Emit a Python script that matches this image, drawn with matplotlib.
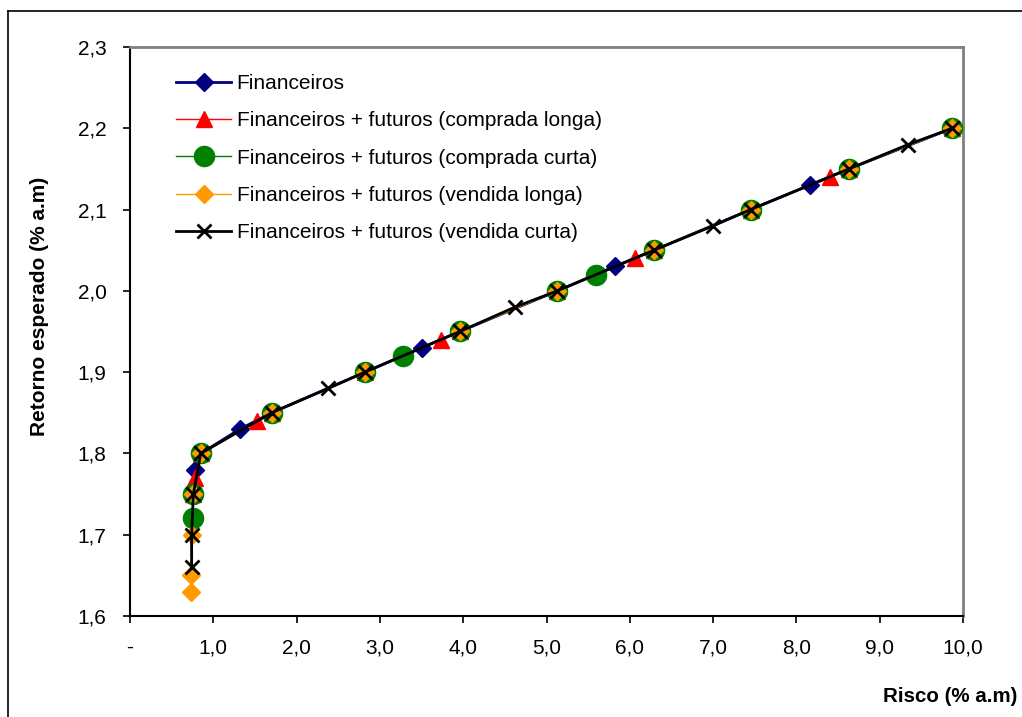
import matplotlib
matplotlib.use("Agg")
import matplotlib.pyplot as plt
from matplotlib.lines import Line2D
from matplotlib.ticker import FixedLocator, FixedFormatter

plt.rcParams['font.family'] = ['Liberation Sans', 'DejaVu Sans']

# --- data (risk % a.m, expected return % a.m) ---
fin_x = [0.76, 0.78, 0.85, 1.32, 1.70, 2.82, 3.50, 3.96, 5.13, 5.82, 6.29, 7.45, 8.16, 8.63, 9.87]
fin_y = [1.75, 1.78, 1.80, 1.83, 1.85, 1.90, 1.93, 1.95, 2.00, 2.03, 2.05, 2.10, 2.13, 2.15, 2.20]

cl_x = [0.76, 0.78, 0.85, 1.52, 1.70, 2.82, 3.73, 3.96, 5.13, 6.06, 6.29, 7.45, 8.40, 8.63, 9.87]
cl_y = [1.75, 1.77, 1.80, 1.84, 1.85, 1.90, 1.94, 1.95, 2.00, 2.04, 2.05, 2.10, 2.14, 2.15, 2.20]

cc_x = [0.76, 0.76, 0.85, 1.70, 2.82, 3.28, 3.96, 5.13, 5.59, 6.29, 7.45, 8.63, 9.87]
cc_y = [1.72, 1.75, 1.80, 1.85, 1.90, 1.92, 1.95, 2.00, 2.02, 2.05, 2.10, 2.15, 2.20]

vl_x = [0.73, 0.73, 0.74, 0.76, 0.85, 1.70, 2.82, 3.96, 5.13, 6.29, 7.45, 8.63, 9.87]
vl_y = [1.63, 1.65, 1.70, 1.75, 1.80, 1.85, 1.90, 1.95, 2.00, 2.05, 2.10, 2.15, 2.20]

vc_x = [0.74, 0.74, 0.76, 0.85, 1.70, 2.38, 2.82, 3.96, 4.62, 5.13, 6.29, 7.00, 7.45, 8.63, 9.34, 9.87]
vc_y = [1.66, 1.70, 1.75, 1.80, 1.85, 1.88, 1.90, 1.95, 1.98, 2.00, 2.05, 2.08, 2.10, 2.15, 2.18, 2.20]

labels = ["Financeiros",
          "Financeiros + futuros (comprada longa)",
          "Financeiros + futuros (comprada curta)",
          "Financeiros + futuros (vendida longa)",
          "Financeiros + futuros (vendida curta)"]

x_ticks = [0, 1, 2, 3, 4, 5, 6, 7, 8, 9, 10]
x_ticklabels = ["-", "1,0", "2,0", "3,0", "4,0", "5,0", "6,0", "7,0", "8,0", "9,0", "10,0"]
y_ticks = [1.6, 1.7, 1.8, 1.9, 2.0, 2.1, 2.2, 2.3]
y_ticklabels = ["1,6", "1,7", "1,8", "1,9", "2,0", "2,1", "2,2", "2,3"]

W, H = 1022, 717
fig = plt.figure(figsize=(W / 100, H / 100), dpi=100)
ax = fig.add_axes([130 / W, 1 - 616 / H, (963 - 130) / W, (616 - 47) / H])

ax.plot(fin_x, fin_y, color='#000080', lw=2, marker='D', ms=9,
        mfc='#000080', mec='#000080', label=labels[0], zorder=3)
ax.plot(cl_x, cl_y, color='#FF0000', lw=1, marker='^', ms=12,
        mfc='#FF0000', mec='#FF0000', label=labels[1], zorder=4)
ax.plot(cc_x, cc_y, color='#008000', lw=1, marker='o', ms=14.5,
        mfc='#008000', mec='#008000', label=labels[2], zorder=5)
ax.plot(vl_x, vl_y, color='#FF9900', lw=1, marker='D', ms=9,
        mfc='#FF9900', mec='#FF9900', label=labels[3], zorder=6)
ax.plot(vc_x, vc_y, color='#000000', lw=2, marker='x', ms=10.5, mew=2,
        label=labels[4], zorder=7)

ax.set_xlim(0, 10)
ax.set_ylim(1.6, 2.3)
ax.xaxis.set_major_locator(FixedLocator(x_ticks))
ax.xaxis.set_major_formatter(FixedFormatter(x_ticklabels))
ax.yaxis.set_major_locator(FixedLocator(y_ticks))
ax.yaxis.set_major_formatter(FixedFormatter(y_ticklabels))
ax.tick_params(axis='both', direction='out', length=5, width=1.2, labelsize=15,
               colors='black')
ax.tick_params(axis='x', pad=11)
ax.tick_params(axis='y', pad=12)

for s in ['left', 'bottom']:
    ax.spines[s].set_color('black')
    ax.spines[s].set_linewidth(1.5)
for s in ['top', 'right']:
    ax.spines[s].set_color('#808080')
    ax.spines[s].set_linewidth(2)

leg = ax.legend(loc='upper left', bbox_to_anchor=(0.0455, 0.967), frameon=False,
                fontsize=15, handlelength=2.65, handletextpad=0.25,
                labelspacing=0.88, borderaxespad=0)

fig.text(40 / W, 1 - 306 / H, "Retorno esperado (% a.m)", rotation=90,
         ha='center', va='center', fontsize=15, fontweight='bold')
fig.text(1017 / W, 1 - 697 / H, "Risco (% a.m)", ha='right', va='center',
         fontsize=14.8, fontweight='bold')

# outer chart border (left and top visible)
fig.add_artist(Line2D([8 / W, 8 / W], [0, 1 - 11 / H], transform=fig.transFigure,
                      color='black', lw=1.2))
fig.add_artist(Line2D([8 / W, 1], [1 - 11 / H, 1 - 11 / H], transform=fig.transFigure,
                      color='black', lw=1.2))

fig.savefig("out.png", dpi=100)
